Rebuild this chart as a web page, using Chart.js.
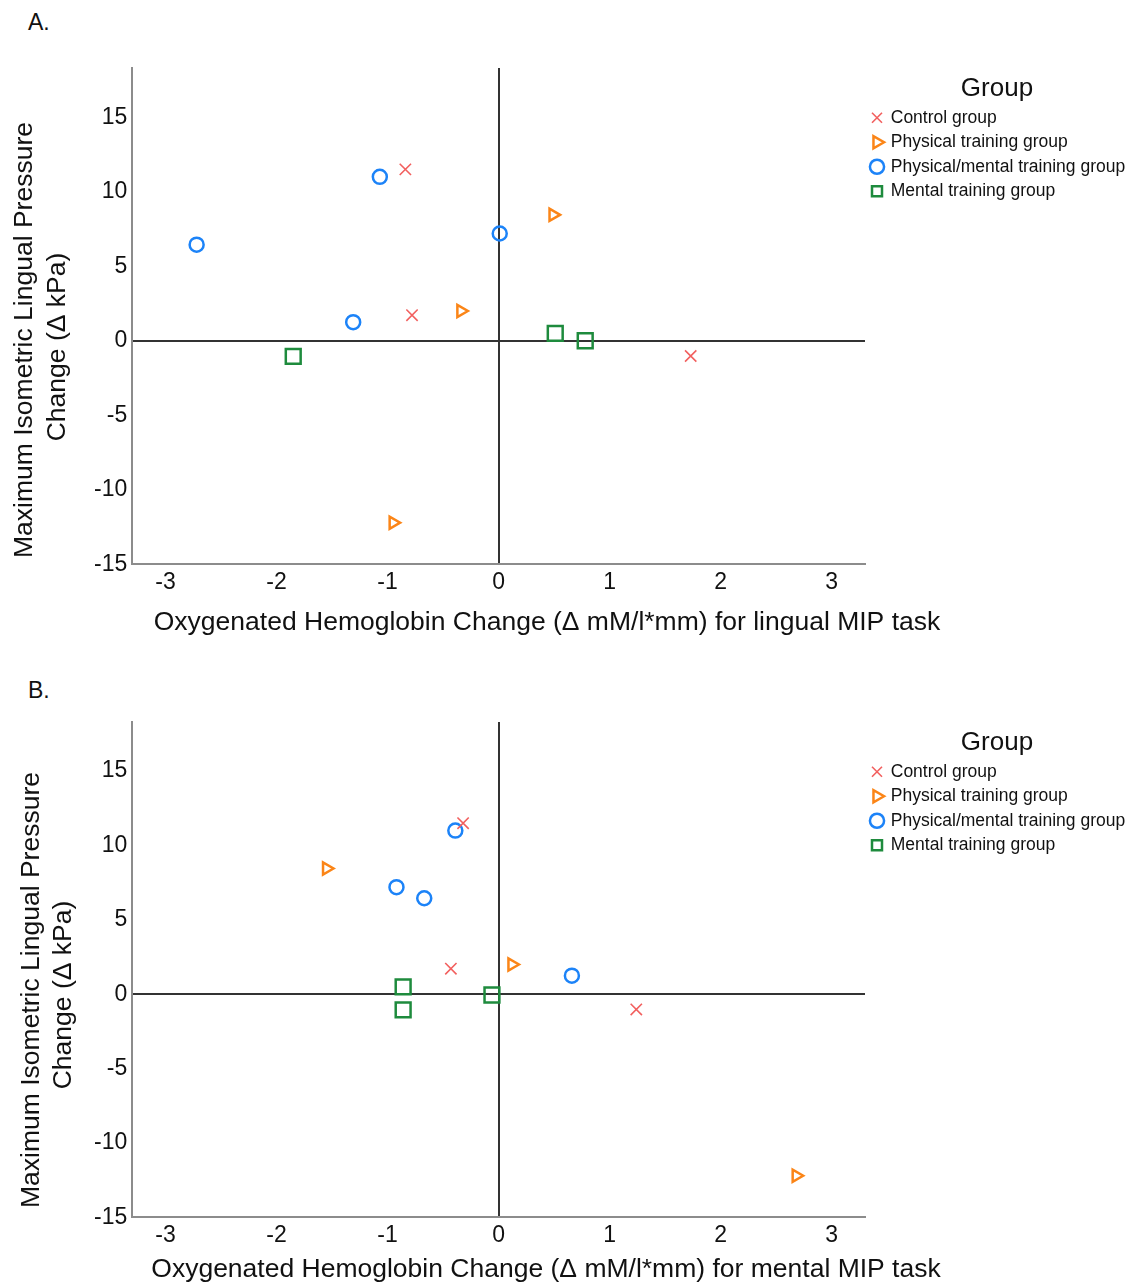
<!DOCTYPE html>
<html>
<head>
<meta charset="utf-8">
<script src="https://cdn.jsdelivr.net/npm/chart.js@4.4.0/dist/chart.umd.min.js"></script>
<style>
  body { margin: 0; background: #fff; font-family: "Liberation Sans", Arial, sans-serif; }
  #page { position: relative; width: 1129px; height: 1284px; overflow: hidden; }
  .panel { position: absolute; left: 0; }
  .tag { position: absolute; left: 28px; font-size: 23px; color: #111; }
</style>
</head>
<body>
<div id="page">
  <div class="tag" style="top:9px">A.</div>
  <div class="panel" style="top:0"><canvas id="chartA" width="1129" height="645"></canvas></div>
  <div class="tag" style="top:677px">B.</div>
  <div class="panel" style="top:650px"><canvas id="chartB" width="1129" height="634"></canvas></div>
</div>
<script>
// legend labels
const groupNames = ['Control group', 'Physical training group', 'Physical/mental training group', 'Mental training group'];

// A. lingual MIP task (x = oxy-Hb change, y = pressure change)
const lingualControlX = [-0.84, -0.78, 1.73];
const lingualControlY = [11.5, 1.72, -1.02];
const lingualPhysicalX = [0.49, -0.34, -0.95];
const lingualPhysicalY = [8.45, 2.0, -12.2];
const lingualBothX = [-2.72, -1.07, -1.31, 0.01];
const lingualBothY = [6.45, 11.0, 1.25, 7.2];
const lingualMentalX = [-1.85, 0.51, 0.78];
const lingualMentalY = [-1.05, 0.5, 0.0];

// B. mental MIP task
const mentalControlX = [-0.32, -0.43, 1.24];
const mentalControlY = [11.5, 1.72, -1.02];
const mentalPhysicalX = [-1.55, 0.12, 2.68];
const mentalPhysicalY = [8.45, 2.0, -12.2];
const mentalBothX = [-0.39, -0.92, -0.67, 0.66];
const mentalBothY = [11.0, 7.2, 6.45, 1.25];
const mentalMentalX = [-0.86, -0.86, -0.06];
const mentalMentalY = [0.5, -1.05, -0.05];

const yTitleLines = ['Maximum Isometric Lingual Pressure', 'Change (\u0394 kPa)'];
const xTitleA = 'Oxygenated Hemoglobin Change (\u0394 mM/l*mm) for lingual MIP task';
const xTitleB = 'Oxygenated Hemoglobin Change (\u0394 mM/l*mm) for mental MIP task';

Chart.defaults.font.family = '"Liberation Sans", Arial, sans-serif';
Chart.defaults.color = '#111';

const groupStyles = [
  { pointStyle: 'crossRot', color: '#f2605f', radius: 8, width: 1.6, rotation: 0 },
  { pointStyle: 'triangle', color: '#fb8517', radius: 7, width: 2.5, rotation: 90 },
  { pointStyle: 'circle', color: '#1c83f8', radius: 7, width: 2.5, rotation: 0 },
  { pointStyle: 'rect', color: '#1e8b3d', radius: 10.5, width: 2.5, rotation: 0 },
];

function toPoints(xs, ys) {
  return xs.map((x, i) => ({ x: x, y: ys[i] }));
}

// draws the axis titles where the original figure has them
const axisCaptions = {
  id: 'axisCaptions',
  afterDraw(chart, args, opts) {
    const ctx = chart.ctx;
    ctx.save();
    ctx.fillStyle = '#111';
    ctx.textAlign = 'center';
    ctx.textBaseline = 'middle';
    ctx.font = '26.5px "Liberation Sans", Arial, sans-serif';
    ctx.fillText(opts.xText, opts.xAt[0], opts.xAt[1]);
    opts.yText.forEach((line, i) => {
      ctx.save();
      ctx.translate(opts.yAt[i][0], opts.yAt[i][1]);
      ctx.rotate(-Math.PI / 2);
      ctx.fillText(line, 0, 0);
      ctx.restore();
    });
    ctx.restore();
  }
};

const zeroLine = (c) => (c.tick && c.tick.value === 0 ? '#333' : 'rgba(0,0,0,0)');

function makeChart(id, series, captions, padTop, padBottom) {
  const datasets = series.map((pts, i) => {
    const s = groupStyles[i];
    return {
      label: groupNames[i],
      data: pts,
      pointStyle: s.pointStyle,
      pointRotation: s.rotation,
      pointRadius: s.radius,
      pointHoverRadius: s.radius,
      borderColor: s.color,
      backgroundColor: 'rgba(0,0,0,0)',
      borderWidth: s.width,
    };
  });

  return new Chart(document.getElementById(id), {
    type: 'scatter',
    data: { datasets: datasets },
    options: {
      responsive: false,
      animation: false,
      layout: { padding: { left: 89, top: padTop, right: 0, bottom: padBottom } },
      scales: {
        x: {
          type: 'linear',
          min: -3.3,
          max: 3.3,
          grid: { color: zeroLine, lineWidth: 2, drawTicks: false },
          border: { display: true, color: '#8c8c8c', width: 2 },
          ticks: { stepSize: 1, includeBounds: false, padding: 4, font: { size: 23 }, color: '#111' },
        },
        y: {
          type: 'linear',
          min: -15,
          max: 18.3,
          grid: { color: zeroLine, lineWidth: 2, drawTicks: false },
          border: { display: true, color: '#8c8c8c', width: 2 },
          ticks: { stepSize: 5, includeBounds: false, padding: 5, font: { size: 23 }, color: '#111' },
        },
      },
      plugins: {
        tooltip: { enabled: false },
        legend: {
          position: 'right',
          align: 'start',
          maxWidth: 264,
          title: {
            display: true,
            text: 'Group',
            color: '#111',
            font: { size: 26, lineHeight: 1 },
            padding: { top: 8, bottom: 0 },
          },
          labels: {
            usePointStyle: true,
            boxWidth: 10,
            boxHeight: 10,
            padding: 7,
            color: '#111',
            font: { size: 17.5 },
          },
        },
        axisCaptions: captions,
      },
    },
    plugins: [axisCaptions],
  });
}

makeChart('chartA', [
  toPoints(lingualControlX, lingualControlY),
  toPoints(lingualPhysicalX, lingualPhysicalY),
  toPoints(lingualBothX, lingualBothY),
  toPoints(lingualMentalX, lingualMentalY),
], {
  xText: xTitleA,
  xAt: [547, 623],
  yText: yTitleLines,
  yAt: [[25, 340], [58, 347]],
}, 68, 45);

makeChart('chartB', [
  toPoints(mentalControlX, mentalControlY),
  toPoints(mentalPhysicalX, mentalPhysicalY),
  toPoints(mentalBothX, mentalBothY),
  toPoints(mentalMentalX, mentalMentalY),
], {
  xText: xTitleB,
  xAt: [546, 620],
  yText: yTitleLines,
  yAt: [[32, 340], [64, 345]],
}, 72, 31);
</script>
</body>
</html>
